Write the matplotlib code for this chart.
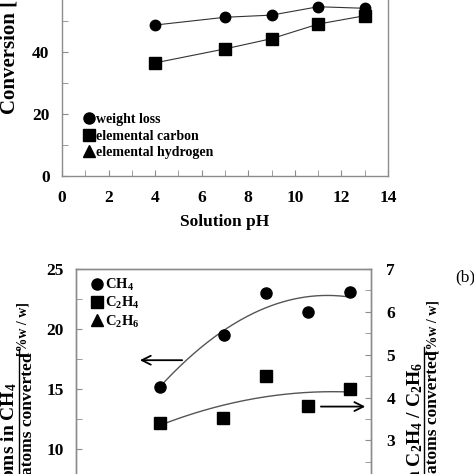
import numpy as np
import matplotlib
matplotlib.use("Agg")
import matplotlib.pyplot as plt
from matplotlib.lines import Line2D
from matplotlib.ticker import MultipleLocator

plt.rcParams['font.family'] = ['Liberation Serif', 'DejaVu Serif']
plt.rcParams['mathtext.fontset'] = 'custom'
plt.rcParams['mathtext.rm'] = 'Liberation Serif:bold'
plt.rcParams['mathtext.bf'] = 'Liberation Serif:bold'
plt.rcParams['mathtext.it'] = 'Liberation Serif:bold'
plt.rcParams['mathtext.default'] = 'bf'

# ---------------- data ----------------
ph = [4, 7, 9, 11, 13]
weight_loss = [48.7, 51.2, 51.9, 54.6, 54.1]
elemental_carbon = [36.5, 41.0, 44.3, 49.0, 51.7]

ch4 = [15.2, 19.5, 23.0, 21.4, 23.1]
c2h4 = [3.41, 3.52, 4.51, 3.81, 4.20]

top_legend = ['weight loss', 'elemental carbon', 'elemental hydrogen']
bot_legend = ['CH$_4$', 'C$_2$H$_4$', 'C$_2$H$_6$']

W = 474.0
def fx(px):
    return px / W
def fy(py):
    return 1 - py / W

GRAY = '#8c8c8c'
fig = plt.figure(figsize=(4.74, 4.74), dpi=100)

def style_axes(ax):
    for s in ax.spines.values():
        s.set_color(GRAY)
        s.set_linewidth(1.0)
    ax.tick_params(which='both', direction='in', length=4, color=GRAY,
                   labelsize=12.5)
    for lab in ax.get_xticklabels() + ax.get_yticklabels():
        lab.set_fontweight('bold')

# ---------------- top panel (a) ----------------
ax1 = fig.add_axes([fx(62), fy(176), fx(388) - fx(62), 310 / W])
ax1.set_xlim(0, 14)
ax1.set_ylim(0, 100)
ax1.xaxis.set_major_locator(MultipleLocator(2))
ax1.xaxis.set_minor_locator(MultipleLocator(1))
ax1.yaxis.set_major_locator(MultipleLocator(20))
ax1.yaxis.set_minor_locator(MultipleLocator(10))
ax1.plot(ph, weight_loss, '-', color='#333333', lw=0.8, marker='o',
         ms=7.5, mfc='black', mec='black')
ax1.plot(ph, elemental_carbon, '-', color='#333333', lw=0.8, marker='s',
         ms=8, mfc='black', mec='black')
ax1.tick_params(axis='x', pad=10)
ax1.tick_params(axis='y', pad=9)
style_axes(ax1)
h_top = [Line2D([], [], ls='none', marker=m, color='black', ms=8)
         for m in ['o', 's', '^']]
ax1.legend(h_top, top_legend, loc='lower left',
           bbox_to_anchor=((84 - 62) / 326, (176 - 159) / 310),
           frameon=False, borderpad=0, borderaxespad=0, handlelength=0.7,
           handletextpad=0.15, labelspacing=0.25,
           prop={'weight': 'bold', 'size': 10})

fig.text(fx(225), fy(222), 'Solution pH', ha='center', va='center',
         fontsize=12.5, fontweight='bold')
fig.text(fx(10), fy(114), 'Conversion [%]', rotation=90, ha='center',
         va='bottom', fontsize=15, fontweight='bold')

# ---------------- bottom panel (b) ----------------
ax2 = fig.add_axes([fx(76), fy(569), (371 - 76) / W, 300 / W])
ax2.set_xlim(0, 14)
ax2.set_ylim(0, 25)
ax2.xaxis.set_major_locator(MultipleLocator(2))
ax2.xaxis.set_minor_locator(MultipleLocator(1))
ax2.yaxis.set_major_locator(MultipleLocator(5))
ax2.yaxis.set_minor_locator(MultipleLocator(2.5))
ax3 = ax2.twinx()
ax3.set_ylim(0, 7)
ax3.yaxis.set_major_locator(MultipleLocator(1))
ax3.yaxis.set_minor_locator(MultipleLocator(0.5))

xs = np.linspace(min(ph), max(ph), 200)
ax2.plot(xs, np.polyval(np.polyfit(ph, ch4, 2), xs), color='#555555', lw=1.0)
ax3.plot(xs, np.polyval(np.polyfit(ph, c2h4, 2), xs), color='#555555', lw=1.0)
ax2.plot(ph, ch4, ls='none', marker='o', ms=8, color='black')
ax3.plot(ph, c2h4, ls='none', marker='s', ms=8, color='black')

ax2.annotate('', xy=(2.9, 17.4), xytext=(5.17, 17.4),
             arrowprops=dict(arrowstyle='->', lw=1.3, color='black',
                             mutation_scale=16))
ax3.annotate('', xy=(13.86, 3.79), xytext=(11.49, 3.79),
             arrowprops=dict(arrowstyle='->', lw=1.3, color='black',
                             mutation_scale=16))
ax2.tick_params(axis='y', pad=9)
ax3.tick_params(axis='y', pad=11)
style_axes(ax2)
style_axes(ax3)

h_bot = [Line2D([], [], ls='none', marker=m, color='black', ms=8)
         for m in ['o', 's', '^']]
ax2.legend(h_bot, bot_legend, loc='upper left',
           bbox_to_anchor=((92 - 76) / 295, (569 - 277) / 300),
           frameon=False, borderpad=0, borderaxespad=0, handlelength=0.7,
           handletextpad=0.2, labelspacing=0.15,
           prop={'weight': 'bold', 'size': 10.5})

# left y label (fraction)
fig.text(fx(9), fy(382), 'C atoms in CH$_4$', rotation=90, ha='center',
         va='top', fontsize=14, fontweight='bold')
fig.text(fx(28), fy(352), 'C atoms converted', rotation=90, ha='center',
         va='top', fontsize=12.5, fontweight='bold')
fig.add_artist(Line2D([fx(18.5), fx(18.5)], [fy(349), fy(500)],
                      color='black', lw=1.0, transform=fig.transFigure))
fig.text(fx(23), fy(302), '[%w / w]', rotation=90, ha='center', va='top',
         fontsize=10, fontweight='bold')

# right y label (fraction)
fig.text(fx(415), fy(362), 'C atoms in C$_2$H$_4$ / C$_2$H$_6$', rotation=90,
         ha='center', va='top', fontsize=14, fontweight='bold')
fig.text(fx(433), fy(350), 'C atoms converted', rotation=90, ha='center',
         va='top', fontsize=12.5, fontweight='bold')
fig.add_artist(Line2D([fx(424), fx(424)], [fy(347), fy(500)], color='black',
                      lw=1.0, transform=fig.transFigure))
fig.text(fx(433), fy(300), '[%w / w]', rotation=90, ha='center', va='top',
         fontsize=10, fontweight='bold')

fig.text(fx(455), fy(277), '(b)', ha='left', va='center', fontsize=12.5)

fig.savefig('out.png', dpi=100)
